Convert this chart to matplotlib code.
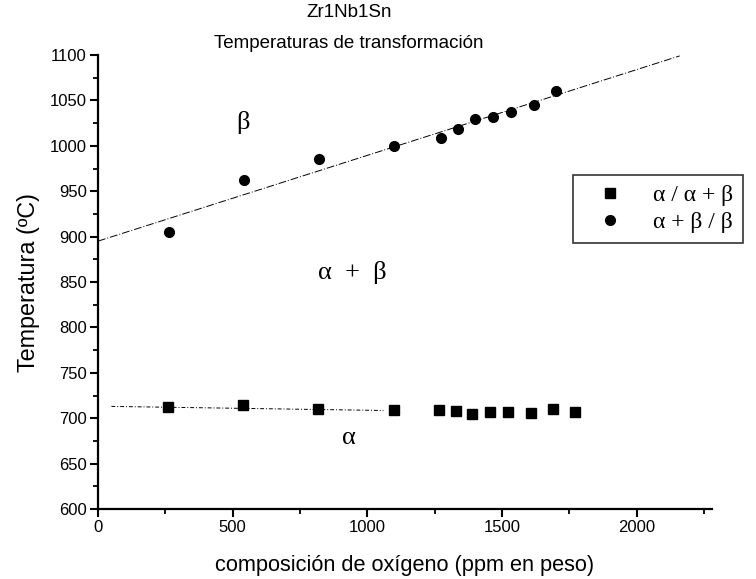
import numpy as np
import matplotlib
matplotlib.use("Agg")
import matplotlib.pyplot as plt
from matplotlib.ticker import MultipleLocator

plt.rcParams['font.family'] = ['Liberation Sans', 'DejaVu Sans']

# alpha / alpha+beta  (squares)
x_sq = [259, 537, 816, 1100, 1266, 1330, 1390, 1456, 1524, 1607, 1690, 1771]
t_sq = [712, 715, 710, 708.5, 708.5, 708, 705, 707, 707, 705.5, 710, 707]
# alpha+beta / beta  (circles)
x_ci = [265, 544, 821, 1100, 1272, 1337, 1400, 1465, 1535, 1619, 1700]
t_ci = [905, 962.5, 985, 999.5, 1008.5, 1018, 1029, 1031.5, 1037.5, 1044.5, 1060]
# drawn trend lines (end points)
fit_ci_x = [0, 2160]
fit_ci_t = [895, 1099]
fit_sq_x = [50, 1060]
fit_sq_t = [713, 708.5]

fig = plt.figure(figsize=(7.56, 5.79), dpi=100)
ax = fig.add_axes([0.1296, 0.1209, 0.8122, 0.7841])

ax.plot(fit_ci_x, fit_ci_t, color='black', lw=0.7, ls=(0, (8, 2, 1, 2)))
ax.plot(fit_sq_x, fit_sq_t, color='black', lw=0.7, ls=(0, (4, 2, 1, 2)))
ax.plot(x_sq, t_sq, 's', color='black', ms=6.5, label='α / α + β')
ax.plot(x_ci, t_ci, 'o', color='black', ms=7, label='α + β / β')

ax.set_xlim(0, 2280)
ax.set_ylim(600, 1100)
ax.xaxis.set_major_locator(MultipleLocator(500))
ax.xaxis.set_minor_locator(MultipleLocator(250))
ax.yaxis.set_major_locator(MultipleLocator(50))
ax.yaxis.set_minor_locator(MultipleLocator(25))
ax.tick_params(which='major', length=6, width=1.5, labelsize=12, direction='out', pad=2)
ax.tick_params(which='minor', length=3.5, width=1.3, direction='out')
for s in ['top', 'right']:
    ax.spines[s].set_visible(False)
for s in ['left', 'bottom']:
    ax.spines[s].set_linewidth(1.6)

ax.set_xlabel('composición de oxígeno (ppm en peso)', fontsize=15.7, labelpad=14)
ax.set_ylabel('Temperatura (ºC)', fontsize=16.8, labelpad=7)
fig.text(349 / 756, 0.978, 'Zr1Nb1Sn', ha='center', va='center', fontsize=13.5)
fig.text(349 / 756, 0.925, 'Temperaturas de transformación', ha='center', va='center', fontsize=13.5)

greek = ['Liberation Serif', 'DejaVu Serif']
ax.text(540, 1026, 'β', fontsize=19, ha='center', va='center', family=greek)
ax.text(945, 860, 'α  +  β', fontsize=19, ha='center', va='center', family=greek)
ax.text(930, 678, 'α', fontsize=19, ha='center', va='center', family=greek)

leg = ax.legend(loc='upper left', bbox_to_anchor=(573 / 756, 1 - 175 / 579),
                bbox_transform=fig.transFigure,
                frameon=True, fancybox=False, edgecolor='black',
                handletextpad=0.7, borderpad=0.4, labelspacing=0.25, handlelength=2.3,
                borderaxespad=0, prop={'family': greek, 'size': 17})
leg.get_frame().set_linewidth(1.2)

fig.savefig('out.png', dpi=100)
